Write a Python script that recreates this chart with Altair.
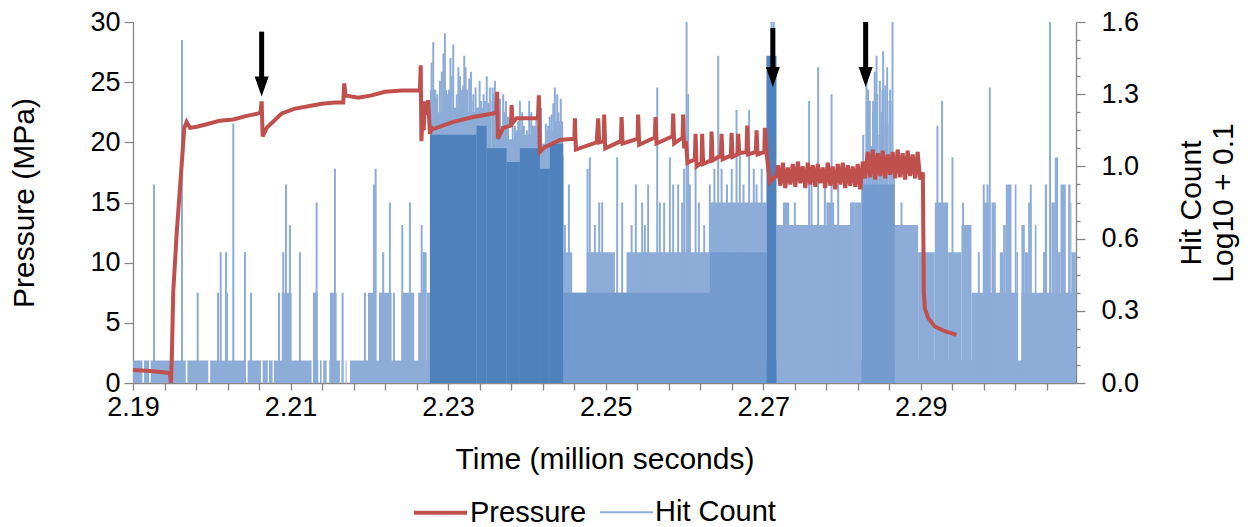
import altair as alt
import pandas as pd

# ---------------- Pressure series (MPa) ----------------
press_time_a = [
    2.19000, 2.19216, 2.19444, 2.19470, 2.19482, 2.19495, 2.19511, 2.19555, 2.19596, 2.19626,
    2.19651, 2.19681, 2.19723, 2.19808, 2.19935, 2.20104, 2.20273, 2.20443, 2.20590, 2.20618,
    2.20633, 2.20646, 2.20697, 2.20824, 2.20887, 2.21056, 2.21225, 2.21395, 2.21563, 2.21669,
    2.21681, 2.21699, 2.21859, 2.22029, 2.22198, 2.22410, 2.22642, 2.22652, 2.22661, 2.22676,
    2.22690, 2.22706, 2.22727, 2.22747, 2.22769, 2.22791, 2.22811, 2.23065, 2.23318, 2.23572,
    2.23613, 2.23623, 2.23632, 2.23699, 2.23797, 2.23806, 2.23816, 2.23869, 2.24140, 2.24152,
    2.24165, 2.24228, 2.24419, 2.24603, 2.24609, 2.24622, 2.24885, 2.24905, 2.24918, 2.24975,
    2.24981, 2.24994, 2.25193, 2.25202, 2.25215, 2.25405, 2.25412, 2.25425, 2.25624, 2.25633,
    2.25646, 2.25849, 2.25857, 2.25869, 2.25976, 2.25984, 2.25996, 2.26018, 2.26039, 2.26132,
    2.26141, 2.26154, 2.26217, 2.26225, 2.26237, 2.26335, 2.26344, 2.26357, 2.26462, 2.26471,
    2.26484, 2.26589, 2.26598, 2.26610, 2.26674, 2.26682, 2.26694, 2.26788, 2.26796, 2.26808,
    2.26906, 2.26915, 2.26928, 2.27014, 2.27020, 2.27042, 2.27084, 2.27122, 2.27169,
]
press_value_a = [
    1.08, 1.00, 0.85, 0.75, 0.0, 2.9, 7.6, 12.5, 16.2, 18.9,
    21.2, 21.7, 21.2, 21.3, 21.5, 21.8, 21.9, 22.2, 22.4, 22.5,
    23.4, 20.5, 21.2, 22.0, 22.4, 22.8, 23.0, 23.2, 23.3, 23.3,
    24.9, 23.9, 23.7, 23.9, 24.2, 24.3, 24.3, 26.4, 20.1, 22.3,
    21.0, 23.4, 22.3, 23.5, 20.7, 21.2, 21.1, 21.7, 22.1, 22.4,
    22.5, 24.2, 20.3, 21.2, 21.4, 23.1, 21.6, 22.0, 22.0, 23.9,
    19.2, 19.6, 20.2, 20.3, 22.0, 19.4, 20.0, 22.0, 20.0, 20.1,
    22.3, 19.5, 20.1, 22.1, 19.9, 20.3, 22.3, 19.8, 20.4, 22.1,
    19.9, 20.5, 22.4, 19.9, 20.4, 22.3, 19.5, 20.1, 18.3, 18.6,
    20.7, 18.0, 18.3, 20.7, 18.2, 18.5, 20.9, 18.5, 18.9, 20.7,
    18.6, 18.9, 20.8, 18.8, 19.0, 20.7, 19.1, 19.2, 21.4, 19.0,
    19.2, 21.0, 19.0, 19.2, 21.2, 19.1, 16.7, 17.0, 17.2,
]
press_time_b = [
    2.27185, 2.27217, 2.27249, 2.27280, 2.27312, 2.27344, 2.27375, 2.27407, 2.27439, 2.27470,
    2.27502, 2.27534, 2.27566, 2.27597, 2.27629, 2.27661, 2.27692, 2.27724, 2.27756, 2.27787,
    2.27819, 2.27851, 2.27882, 2.27914, 2.27946, 2.27978, 2.28009, 2.28041, 2.28073, 2.28104,
    2.28136, 2.28168, 2.28199, 2.28231, 2.28263, 2.28294, 2.28326, 2.28358, 2.28390, 2.28421,
    2.28453, 2.28485, 2.28516, 2.28548, 2.28580, 2.28611, 2.28643, 2.28675, 2.28706, 2.28738,
    2.28770, 2.28801, 2.28833, 2.28865, 2.28897, 2.28928, 2.28960, 2.28992,
]
press_value_b = [
    18.1, 16.4, 18.3, 16.2, 17.9, 16.5, 18.2, 16.3, 18.4, 16.6,
    18.0, 16.2, 18.3, 16.5, 18.1, 16.3, 18.2, 16.6, 17.9, 16.2,
    18.3, 16.4, 18.0, 16.1, 18.2, 16.5, 18.3, 16.2, 18.1, 16.4,
    18.0, 16.3, 18.2, 16.1, 18.4, 17.0, 19.2, 17.1, 19.4, 16.9,
    19.1, 17.2, 19.3, 17.0, 19.0, 17.3, 19.2, 17.0, 19.4, 17.1,
    19.1, 16.9, 19.3, 17.2, 19.0, 17.0, 19.2, 16.9,
]
press_time_c = [2.29026, 2.29038, 2.29051, 2.29093, 2.29178, 2.29305, 2.29453]
press_value_c = [17.5, 7.6, 6.2, 5.4, 4.7, 4.3, 4.0]

# ---------------- Hit count (log10 + 0.1) ----------------
spike_time = [
    2.19267, 2.19504, 2.19622, 2.19821, 2.20079, 2.20113, 2.20180, 2.20193, 2.20273, 2.20421,
    2.20497, 2.20853, 2.20907, 2.20942, 2.20992, 2.21119, 2.21331, 2.21563, 2.21661, 2.21944,
    2.22058, 2.22080, 2.22176, 2.22261, 2.22312, 2.22418, 2.22515, 2.22664, 2.22693,
    2.22811, 2.22830, 2.22862, 2.22896, 2.22920, 2.22959, 2.22989, 2.23010, 2.23044, 2.23065,
    2.23086, 2.23110, 2.23150, 2.23192, 2.23222, 2.23240, 2.23268, 2.23298, 2.23349, 2.23380,
    2.23416, 2.23450, 2.23467, 2.23510, 2.23530, 2.23565, 2.23594, 2.23623, 2.23660, 2.23699,
    2.23734, 2.23784, 2.23848, 2.23890, 2.23911, 2.23962, 2.24000, 2.24029, 2.24080, 2.24120,
    2.24152, 2.24207, 2.24240, 2.24270, 2.24313, 2.24355, 2.24385, 2.24400, 2.24419, 2.24453,
    2.22790, 2.22850, 2.22940, 2.22975, 2.23030, 2.23130, 2.23170, 2.23205, 2.23290, 2.23320,
    2.23400, 2.23490, 2.23580, 2.23640, 2.23720, 2.23760, 2.23820, 2.23870, 2.23940, 2.24055,
    2.24100, 2.24180, 2.24290, 2.24335, 2.24430,
    2.24482, 2.24533, 2.24770, 2.24799, 2.24863, 2.24918, 2.24956, 2.25146, 2.25209, 2.25329,
    2.25383, 2.25463, 2.25497, 2.25539, 2.25654, 2.25688, 2.25742, 2.25815, 2.25857, 2.25920,
    2.25971, 2.25996, 2.26027, 2.26047, 2.26069, 2.26141, 2.26183, 2.26250, 2.26322, 2.26364,
    2.26380, 2.26428, 2.26471, 2.26540, 2.26600, 2.26661, 2.26703, 2.26750, 2.26821, 2.26880,
    2.26915, 2.26980, 2.27084, 2.27105, 2.27134, 2.27401, 2.27582, 2.27613, 2.27697, 2.27782,
    2.27867, 2.27951, 2.28141,
    2.28311, 2.28353, 2.28395, 2.28438, 2.28480, 2.28522, 2.28573, 2.28641, 2.28755, 2.29211,
    2.29270, 2.29402, 2.29537, 2.29622, 2.29736, 2.29799, 2.29847, 2.29876, 2.29939, 2.30396,
    2.30640, 2.28270, 2.28330, 2.28415, 2.28500, 2.28550, 2.28610,
]
spike_value = [
    0.88, 0.40, 1.52, 0.40, 0.40, 0.58, 0.58, 0.40, 1.15, 0.58,
    0.40, 0.40, 0.58, 0.88, 0.70, 0.58, 0.80, 0.95, 0.40, 0.40,
    0.88, 0.95, 0.58, 0.80, 0.40, 0.70, 0.80, 0.70, 0.58,
    1.51, 1.30, 1.28, 1.34, 1.38, 1.55, 1.23, 1.30, 1.36, 1.50,
    1.20, 1.28, 1.36, 1.32, 1.40, 1.30, 1.35, 1.25, 1.31, 1.22,
    1.25, 1.28, 1.25, 1.24, 1.31, 1.31, 1.34, 1.20, 1.26, 1.28,
    1.25, 1.06, 1.14, 1.16, 1.25, 1.14, 1.12, 1.25, 1.14, 1.18,
    1.14, 1.04, 1.15, 1.14, 1.19, 1.31, 1.28, 1.20, 1.14, 1.01,
    1.42, 1.26, 1.46, 1.30, 1.44, 1.40, 1.26, 1.45, 1.38, 1.28,
    1.34, 1.36, 1.28, 1.22, 1.20, 1.18, 1.22, 1.10, 1.20, 1.20,
    1.08, 1.22, 1.18, 1.24, 1.26,
    0.70, 0.88, 0.95, 1.00, 0.70, 0.80, 0.80, 1.00, 0.80, 0.70,
    0.88, 0.80, 0.70, 0.88, 1.31, 0.80, 0.80, 1.00, 0.88, 0.88,
    0.80, 0.95, 1.60, 1.28, 0.88, 0.95, 0.80, 0.70, 0.88, 0.80,
    0.95, 1.45, 0.95, 0.88, 0.95, 1.21, 1.06, 0.88, 1.21, 0.95,
    0.88, 0.95, 1.40, 1.60, 1.60, 0.80, 1.25, 0.95, 1.40, 0.88,
    1.28, 0.88, 0.80,
    1.60, 1.25, 1.25, 1.45, 1.34, 1.47, 1.40, 1.60, 0.80, 1.14,
    1.25, 1.00, 0.80, 0.58, 0.58, 0.88, 0.88, 1.31, 0.80, 0.88,
    1.60, 1.10, 1.30, 1.38, 1.20, 1.32, 1.30,
]

# stretches where the trace keeps swinging between zero and a level (light)
band_start = [
    2.19000, 2.19140, 2.19225, 2.19690, 2.19980, 2.20455, 2.20645, 2.20725, 2.20788, 2.21288,
    2.21373, 2.21415, 2.21491, 2.21648, 2.21699, 2.21754,
    2.20887, 2.21284, 2.21500, 2.21982, 2.22122, 2.22410, 2.22620, 2.22676, 2.22727,
    2.22769, 2.22850, 2.22950, 2.23050, 2.23150, 2.23250, 2.23350, 2.23450, 2.23550, 2.23623,
    2.23750, 2.23850, 2.23950, 2.24050, 2.24150, 2.24250, 2.24350,
    2.24461, 2.24575, 2.24758, 2.25117, 2.25265,
    2.26322, 2.27168, 2.27250, 2.27800, 2.28100,
    2.28162, 2.28247, 2.28300, 2.28330, 2.28380, 2.28420, 2.28460, 2.28500, 2.28540, 2.28590,
    2.28630,
    2.28670, 2.28966, 2.29178, 2.29347, 2.29516, 2.29643, 2.29790, 2.29876,
    2.30277, 2.29897, 2.30003, 2.30045, 2.30079, 2.30193, 2.30214, 2.30277, 2.30320, 2.30362,
    2.30447, 2.30552, 2.30574, 2.30658, 2.30701, 2.30743, 2.30773, 2.30870, 2.30900, 2.30912,
]
band_end = [
    2.19120, 2.19205, 2.19670, 2.19955, 2.20435, 2.20625, 2.20710, 2.20772, 2.21267, 2.21352,
    2.21395, 2.21458, 2.21627, 2.21669, 2.21711, 2.30967,
    2.21014, 2.21344, 2.21585, 2.22071, 2.22283, 2.22570, 2.22706, 2.22727, 2.22769,
    2.22850, 2.22950, 2.23050, 2.23150, 2.23250, 2.23350, 2.23450, 2.23550, 2.23623, 2.23750,
    2.23850, 2.23950, 2.24050, 2.24150, 2.24250, 2.24350, 2.24461,
    2.24575, 2.24758, 2.25117, 2.25265, 2.26322,
    2.27041, 2.28162, 2.27330, 2.27900, 2.28162,
    2.28247, 2.28300, 2.28330, 2.28380, 2.28420, 2.28460, 2.28500, 2.28540, 2.28590, 2.28630,
    2.28670,
    2.28966, 2.29178, 2.29347, 2.29516, 2.29643, 2.29790, 2.29876, 2.30235,
    2.30967, 2.29939, 2.30045, 2.30079, 2.30151, 2.30214, 2.30235, 2.30320, 2.30362, 2.30404,
    2.30468, 2.30595, 2.30603, 2.30701, 2.30743, 2.30773, 2.30840, 2.30900, 2.30912, 2.30967,
]
band_top = [
    0.10, 0.10, 0.10, 0.10, 0.10, 0.10, 0.10, 0.10, 0.10, 0.10,
    0.10, 0.10, 0.10, 0.10, 0.10, 0.10,
    0.40, 0.40, 0.40, 0.40, 0.40, 0.40, 0.40, 0.58, 0.40,
    1.30, 1.20, 1.28, 1.22, 1.30, 1.20, 1.22, 1.18, 1.25, 1.14,
    1.08, 1.12, 1.10, 1.14, 1.06, 1.12, 1.16,
    0.58, 0.40, 0.58, 0.40, 0.58,
    0.80, 0.70, 0.80, 0.80, 0.80,
    0.80, 0.95, 1.25, 1.05, 1.20, 1.28, 1.10, 1.30, 1.15, 1.25,
    1.00,
    0.70, 0.58, 0.80, 0.58, 0.70, 0.40, 0.80, 0.40,
    0.40, 0.80, 0.58, 0.70, 0.88, 0.88, 0.58, 0.70, 0.58, 0.80,
    0.70, 0.58, 0.88, 0.80, 1.00, 0.58, 0.88, 0.88, 0.80, 0.58,
]

# overlapping stretches (medium)
mid_start = [2.24461, 2.26322, 2.28247]
mid_end = [2.26322, 2.27041, 2.28670]
mid_top = [0.40, 0.58, 0.88]

# very dense stretches (dark)
dense_start = [2.22769, 2.23361, 2.23488, 2.23742, 2.23911, 2.24165, 2.24292, 2.27041]
dense_end = [2.23361, 2.23488, 2.23742, 2.23911, 2.24165, 2.24292, 2.24461, 2.27168]
dense_top = [1.10, 1.14, 1.04, 0.98, 1.04, 0.95, 1.06, 1.45]

# annotation arrows (pressure units)
arrow_time = [2.20633, 2.27122, 2.28300]
arrow_top = [29.2, 29.5, 30.0]
arrow_tip = [23.8, 24.6, 24.6]

# axis ticks
x_ticks = [2.190, 2.194, 2.198, 2.202, 2.206, 2.210, 2.214, 2.218, 2.222, 2.226,
           2.230, 2.234, 2.238, 2.242, 2.246, 2.250, 2.254, 2.258, 2.262, 2.266,
           2.270, 2.274, 2.278, 2.282, 2.286, 2.290, 2.294, 2.298, 2.302, 2.306]
p_ticks = [0, 5, 10, 15, 20, 25, 30]
h_ticks = [0.0, 0.08, 0.16, 0.24, 0.32, 0.40, 0.48, 0.56, 0.64, 0.72, 0.80,
           0.88, 0.96, 1.04, 1.12, 1.20, 1.28, 1.36, 1.44, 1.52, 1.60]
series_names = ["Pressure", "Hit Count"]

RED = "#C0504D"
LIGHT = "#8DADD8"
MID = "#7098CC"
DARK = "#4F81BD"
FONT = "Liberation Sans"
AXC = "#868686"

press = pd.DataFrame({
    "t": press_time_a + press_time_b + press_time_c,
    "p": press_value_a + press_value_b + press_value_c,
})
press["series"] = "Pressure"
spikes = pd.DataFrame({"t": spike_time, "v": spike_value})
spikes["series"] = "Hit Count"
bands = pd.DataFrame({"t0": band_start, "t1": band_end, "v": band_top})
mids = pd.DataFrame({"t0": mid_start, "t1": mid_end, "v": mid_top})
dense = pd.DataFrame({"t0": dense_start, "t1": dense_end, "v": dense_top})
arrows = pd.DataFrame({"t": arrow_time, "top": arrow_top, "tip": arrow_tip})

x_scale = alt.Scale(domain=[2.19, 2.3097], nice=False, zero=False)
x_axis = alt.Axis(
    values=x_ticks,
    labelExpr="abs((datum.value - 2.19) / 0.02 - round((datum.value - 2.19) / 0.02)) < 0.01 ? format(datum.value, '.2f') : ''",
    labelOverlap=False,
    title="Time (million seconds)",
    tickSize=7, labelPadding=4, titlePadding=24,
)


def X(field):
    return alt.X(f"{field}:Q", scale=x_scale, axis=x_axis)


p_scale = alt.Scale(domain=[0, 30], nice=False, zero=True)
p_axis = alt.Axis(orient="left", values=p_ticks, title="Pressure (MPa)",
                  tickSize=9, labelPadding=4, titlePadding=50)
h_scale = alt.Scale(domain=[0, 1.6], nice=False, zero=True)
major_test = "abs(datum.value / 0.32 - round(datum.value / 0.32)) < 0.01"
h_axis = alt.Axis(
    orient="right", values=h_ticks,
    labelExpr=f"{major_test} ? format(datum.value, '.1f') : ''",
    labelOverlap=False,
    tickSize={"condition": {"test": major_test, "value": 9}, "value": 4},
    labelPadding=16,
    title=["Hit Count", "Log10 + 0.1"],
    titleAngle=270, titleBaseline="top", titlePadding=6,
)


def YP(field):
    return alt.Y(f"{field}:Q", scale=p_scale, axis=p_axis)


def YH(field):
    return alt.Y(f"{field}:Q", scale=h_scale, axis=h_axis)


color = alt.Color("series:N", scale=alt.Scale(domain=series_names, range=[RED, LIGHT]),
                  legend=alt.Legend(title=None))
width_enc = alt.StrokeWidth("series:N", scale=alt.Scale(domain=series_names, range=[4, 2]),
                            legend=alt.Legend(title=None))

band_layer = alt.Chart(bands).mark_rect(color=LIGHT, clip=True).encode(
    x=X("t0"), x2="t1:Q", y=YH("v"), y2=alt.datum(0))
spike_layer = alt.Chart(spikes).mark_rule(clip=True).encode(
    x=X("t"), y=YH("v"), y2=alt.datum(0), color=color, strokeWidth=width_enc)
mid_layer = alt.Chart(mids).mark_rect(color=MID, opacity=0.85, clip=True).encode(
    x=X("t0"), x2="t1:Q", y=YH("v"), y2=alt.datum(0))
dense_layer = alt.Chart(dense).mark_rect(color=DARK, clip=True).encode(
    x=X("t0"), x2="t1:Q", y=YH("v"), y2=alt.datum(0))
hits = alt.layer(band_layer, spike_layer, mid_layer, dense_layer)

press_line = alt.Chart(press).mark_line(strokeJoin="miter", clip=True).encode(
    x=X("t"), y=YP("p"), color=color, strokeWidth=width_enc)
shaft = alt.Chart(arrows).mark_rule(color="black", strokeWidth=5, y2Offset=-12).encode(
    x=X("t"), y=YP("top"), y2="tip:Q")
head = alt.Chart(arrows).mark_point(
    shape="M -0.7 -1 L 0.7 -1 L 0 1 Z", filled=True, color="black", opacity=1,
    size=400, yOffset=-10).encode(x=X("t"), y=YP("tip"))
pressure = alt.layer(press_line, shaft, head)

chart = alt.layer(hits, pressure).resolve_scale(y="independent").properties(
    width=943, height=361,
    autosize=alt.AutoSizeParams(type="none"),
    padding={"left": 133, "top": 22, "right": 177, "bottom": 144},
).configure(
    font=FONT,
).configure_view(stroke=None).configure_axis(
    grid=False, domainColor=AXC, tickColor=AXC, domainWidth=1.3, tickWidth=1.3,
    labelFont=FONT, labelFontSize=27, labelColor="#000000", labelFlush=False,
    titleFont=FONT, titleFontSize=30, titleFontWeight="normal", titleColor="#000000",
).configure_legend(
    orient="none", legendX=279, legendY=462, direction="horizontal",
    symbolType="stroke", symbolSize=2809, labelFont=FONT, labelFontSize=29,
    labelColor="#000000", labelOffset=1, columnPadding=9, padding=0,
)

chart.save("out.html", embed_options={"renderer": "svg", "actions": False})
